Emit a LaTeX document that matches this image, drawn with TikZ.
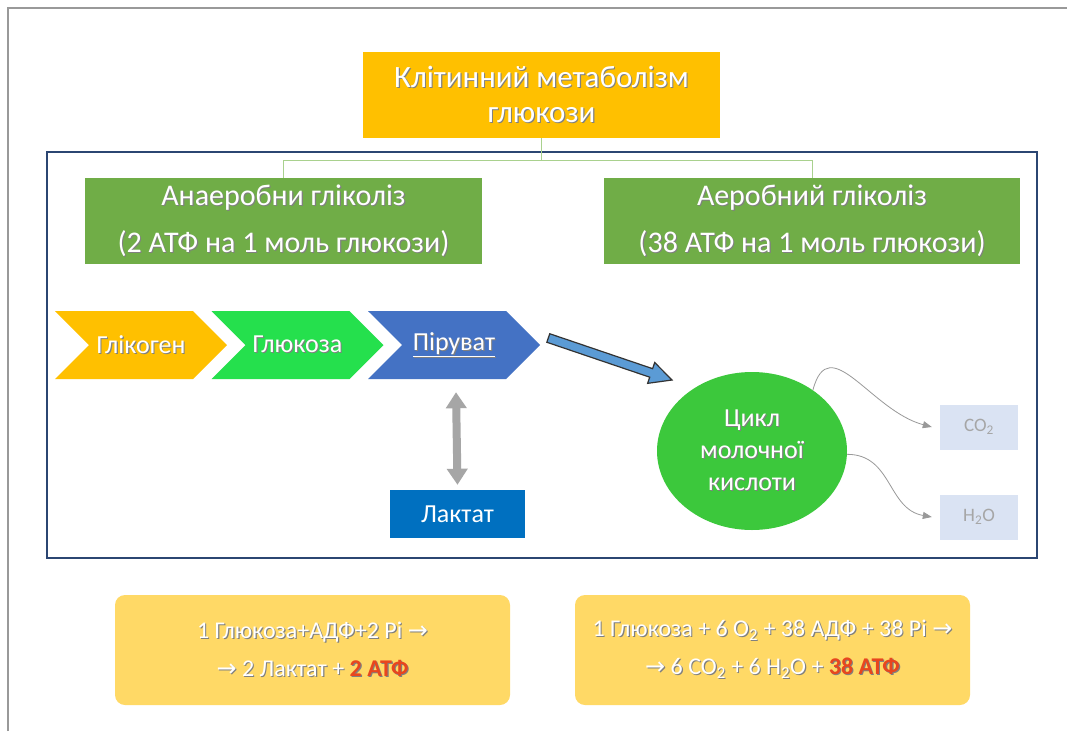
\documentclass[tikz,border=0pt]{standalone}
\usepackage{fontspec}
\setmainfont{Carlito}
\newfontfamily\symfont{DejaVu Sans}
\usetikzlibrary{arrows.meta, positioning, shapes.geometric, shapes.symbols, calc}
\definecolor{mbgold}{HTML}{FFC000}
\definecolor{mbgreen}{HTML}{70AD47}
\definecolor{mblink}{HTML}{A9D18E}
\definecolor{mbframe}{HTML}{2B4672}
\definecolor{chyellow}{HTML}{FFC000}
\definecolor{chgreen}{HTML}{25E04D}
\definecolor{chblue}{HTML}{4472C4}
\definecolor{mbarrow}{HTML}{5B9BD5}
\definecolor{mbcycle}{HTML}{3CC83C}
\definecolor{mblact}{HTML}{0070C0}
\definecolor{mbwater}{HTML}{DAE3F3}
\definecolor{mbeq}{HTML}{FFD966}
\definecolor{mbred}{HTML}{E8461E}
\newcommand{\hl}[1]{\textcolor{mbred}{\textbf{#1}}}
\newcommand{\shd}[1]{\leavevmode\rlap{\kern1.1pt\raisebox{-1.1pt}{\color{black!50}\def\hl##1{\textbf{##1}}#1}}#1}
\newcommand{\arr}{{\symfont →}}
\tikzset{
  titlebox/.style={fill=mbgold, minimum width=357pt, minimum height=86pt, align=center, text=white, font=\fontsize{31}{35}\selectfont},
  typebox/.style={fill=mbgreen, minimum height=86pt, align=center, text=white, font=\fontsize{30}{47}\selectfont},
  chev/.style={signal, signal from=west, signal to=east, signal pointer angle=90, minimum height=68pt, minimum width=172pt, inner sep=0pt, text=white, font=\fontsize{26}{30}\selectfont},
  link/.style={mblink, line width=1pt},
  cyclenode/.style={ellipse, fill=mbcycle, minimum width=190pt, minimum height=158pt, inner sep=0pt, align=center, text=white, font=\fontsize{26}{32}\selectfont},
  outbox/.style={fill=mbwater, minimum width=78pt, minimum height=45pt, text=black!35, font=\fontsize{19}{22}\selectfont},
  outarrow/.style={black!40, line width=0.8pt, -{Triangle[length=9pt, width=7pt]}},
  eqbox/.style={fill=mbeq, rounded corners=10pt, minimum width=395pt, minimum height=110pt, align=center, text=white, font=\fontsize{24}{38}\selectfont},
  dblarrow/.style={black!35, line width=8pt, {Triangle[length=16pt, width=20pt]}-{Triangle[length=16pt, width=20pt]}}
}
\begin{document}
\begin{tikzpicture}[x=1pt, y=-1pt]
\useasboundingbox (0,0) rectangle (1067,731);
\fill[white] (0,0) rectangle (1067,731);
% page edge
\draw[black!40, line width=2pt] (8,731) -- (8,8) -- (1067,8);
% frame
\draw[mbframe, line width=1.8pt] (47,152) rectangle (1037,558);
% title and the two kinds of glycolysis
\node[titlebox] (title) at (541.5,95) {\shd{Клітинний метаболізм}\\\shd{глюкози}};
\node[typebox, minimum width=397pt] (anaer) at (283.5,221) {\shd{Анаеробни гліколіз}\\\shd{(2 АТФ на 1 моль глюкози)}};
\node[typebox, minimum width=416pt] (aer) at (812,221) {\shd{Аеробний гліколіз}\\\shd{(38 АТФ на 1 моль глюкози)}};
\coordinate (fork) at ($(title.south)+(0,22)$);
\draw[link] (title.south) -- (fork) -| (anaer.north);
\draw[link] (fork) -| (aer.north);
% chevrons
\node[chev, fill=chyellow] (glycogen) at (141,345) {\shd{Глікоген}};
\node[chev, fill=chgreen] (glucose) at (297.5,345) {\shd{Глюкоза}};
\node[chev, fill=chblue] (pyr) at (454,345) {\shd{\underline{Піруват}}};
% lactate
\node[fill=mblact, minimum width=135pt, minimum height=48pt, text=white, font=\fontsize{26}{30}\selectfont] (lactat) at (457.5,514) {Лактат};
\draw[dblarrow] ($(pyr.south)+(2,13)$) -- ($(lactat.north)+(0,-5)$);
% cycle
\node[cyclenode] (cycle) at (752,451) {\shd{Цикл}\\\shd{молочної}\\\shd{кислоти}};
\coordinate (bt) at ($(pyr.east)+(8,-7)$);
\coordinate (bh) at (672,380);
\coordinate (hb) at ($(bh)!22pt!(bt)$);
\draw[black!80, fill=mbarrow, line width=1.2pt, line join=miter]
  ($(bt)!4.5pt!90:(bh)$) -- ($(hb)!4.5pt!-90:(bt)$) -- ($(hb)!11pt!-90:(bt)$) -- (bh)
  -- ($(hb)!11pt!90:(bt)$) -- ($(hb)!4.5pt!90:(bt)$) -- ($(bt)!4.5pt!-90:(bh)$) -- cycle;
% products
\node[outbox] (co2) at (979,427) {CO\textsubscript{2}};
\node[outbox] (h2o) at (979,517) {H\textsubscript{2}O};
\draw[outarrow] (cycle.45) to[out=75, in=165, looseness=1.3] ($(co2.west)+(-8,0)$);
\draw[outarrow] (cycle.-2) to[out=0, in=170, looseness=1.1] ($(h2o.west)+(-8,0)$);
% equations
\node[eqbox] (eqan) at (312.5,650) {\shd{1 Глюкоза+АДФ+2 Pi \arr}\\\shd{\arr{} 2 Лактат + \hl{2 АТФ}}};
\node[eqbox] (eqaer) at (772.5,650) {\shd{1 Глюкоза + 6 O\textsubscript{2} + 38 АДФ + 38 Pi \arr}\\\shd{\arr{} 6 CO\textsubscript{2}  + 6 H\textsubscript{2}O + \hl{38 АТФ}}};
\end{tikzpicture}
\end{document}
